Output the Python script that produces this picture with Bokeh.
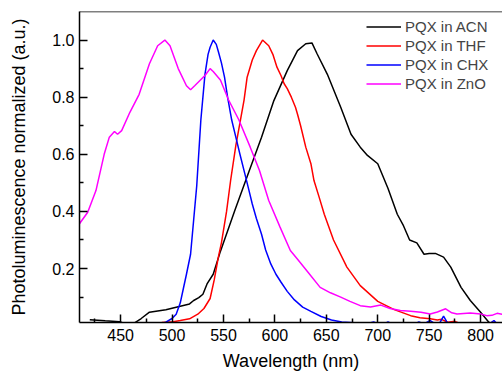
from bokeh.plotting import figure
from bokeh.models import FixedTicker, Span, Legend, LegendItem, Range1d, NumeralTickFormatter
from bokeh.embed import file_html
from bokeh.resources import INLINE

# ---- data ----
acn_wl = [420, 435, 449, 455, 462, 470, 478, 494, 507, 517, 521, 526, 530, 534, 540, 547, 561, 574,
          587, 599, 612, 622, 630, 636, 641, 651, 664, 674, 683, 690, 700, 710, 719, 725, 731, 738,
          745, 750, 756, 764, 771, 781, 790, 800, 808, 815]
acn_pl = [0.021, 0.017, 0.014, 0.006, 0.006, 0.025, 0.047, 0.056, 0.067, 0.076, 0.088, 0.098, 0.11, 0.146,
          0.18, 0.26, 0.403, 0.532, 0.66, 0.788, 0.893, 0.963, 0.987, 0.99, 0.952, 0.88, 0.765, 0.67,
          0.625, 0.596, 0.567, 0.48, 0.39, 0.35, 0.30, 0.29, 0.25, 0.253, 0.253, 0.24, 0.205, 0.134,
          0.088, 0.047, 0.012, 0.0]

thf_wl = [478, 490, 501, 508, 517, 525, 531, 537, 541, 545, 548, 553, 557, 562, 566, 570, 573, 578,
          582, 588, 594, 598, 602, 606, 609, 612, 616, 620, 622, 625, 630, 635, 638, 643, 648, 657,
          670, 683, 700, 716, 732, 741, 751, 758, 762, 768, 775, 780, 800, 812, 820]
thf_pl = [0.01, 0.011, 0.014, 0.018, 0.024, 0.04, 0.06, 0.095, 0.16, 0.24, 0.29, 0.40, 0.51, 0.63,
          0.71, 0.79, 0.87, 0.93, 0.963, 1.0, 0.98, 0.95, 0.905, 0.875, 0.847, 0.83, 0.80, 0.765,
          0.74, 0.70, 0.625, 0.567, 0.508, 0.45, 0.39, 0.30, 0.205, 0.14, 0.085, 0.056, 0.035,
          0.028, 0.024, 0.02, 0.022, 0.012, 0.015, 0.008, 0.0, 0.012, 0.0]

chx_wl = [488, 494, 500, 504, 508, 511, 514, 518, 521, 524, 528, 532, 535, 537, 540, 543, 545, 548,
          551, 554, 558, 562, 566, 570, 574, 578, 582, 587, 591, 596, 601, 606, 612, 619, 627, 635,
          645, 655, 665, 677, 690, 696, 700, 706, 710, 714, 736, 740, 745, 751, 756, 760, 764, 768,
          773, 805, 810, 813, 816, 820]
chx_pl = [0.005, 0.012, 0.025, 0.04, 0.08, 0.13, 0.18, 0.25, 0.37, 0.49, 0.72, 0.88, 0.95, 0.975,
          1.0, 0.985, 0.96, 0.92, 0.87, 0.80, 0.72, 0.66, 0.60, 0.543, 0.485, 0.426, 0.375, 0.32,
          0.265, 0.216, 0.18, 0.152, 0.12, 0.09, 0.065, 0.05, 0.032, 0.02, 0.013, 0.01, 0.008,
          0.013, 0.008, 0.006, 0.013, 0.006, 0.006, 0.013, 0.006, 0.018, 0.006, 0.008, 0.033,
          0.008, 0.006, 0.006, 0.01, 0.018, 0.006, 0.006]

zno_wl = [410, 418, 426, 434, 439, 444, 447, 451, 459, 468, 478, 486, 493, 498, 506, 514, 518, 522,
          532, 537, 540, 547, 555, 565, 576, 585, 594, 605, 615, 623, 632, 644, 654, 664, 673, 683,
          693, 703, 712, 722, 732, 742, 751, 758, 766, 772, 777, 790, 800, 806, 811, 816, 821]
zno_pl = [0.357, 0.397, 0.473, 0.60, 0.66, 0.68, 0.67, 0.683, 0.747, 0.81, 0.917, 0.98, 1.0, 0.98,
          0.90, 0.84, 0.826, 0.84, 0.876, 0.90, 0.89, 0.86, 0.79, 0.72, 0.625, 0.543, 0.438, 0.345,
          0.263, 0.228, 0.188, 0.134, 0.115, 0.10, 0.085, 0.07, 0.065, 0.072, 0.06, 0.053, 0.05,
          0.047, 0.041, 0.048, 0.059, 0.045, 0.041, 0.044, 0.041, 0.035, 0.036, 0.043, 0.04]

labels = ["PQX in ACN", "PQX in THF", "PQX in CHX", "PQX in ZnO"]
colors = ["#000000", "#ff0000", "#0000ff", "#ff00ff"]

x_major = [450, 500, 550, 600, 650, 700, 750, 800]
x_minor = [425, 475, 525, 575, 625, 675, 725, 775, 825]
y_major = [0.2, 0.4, 0.6, 0.8, 1.0]
y_minor = [0.1, 0.3, 0.5, 0.7, 0.9]
x_title = "Wavelength (nm)"
y_title = "Photoluminescence normalized (a.u.)"

FONT = "Liberation Sans"

p = figure(width=502, height=374, output_backend="svg", toolbar_location=None,
           x_range=Range1d(410, 821.3), y_range=Range1d(0.011, 1.1),
           min_border_left=79, min_border_right=0, min_border_top=11, min_border_bottom=52)
p.grid.visible = False
p.outline_line_color = None
p.background_fill_color = "white"
p.border_fill_color = "white"

p.xaxis.ticker = FixedTicker(ticks=x_major, minor_ticks=x_minor)
p.yaxis.ticker = FixedTicker(ticks=y_major, minor_ticks=y_minor)
p.yaxis.formatter = NumeralTickFormatter(format="0.0")

for ax in (p.xaxis[0], p.yaxis[0]):
    ax.axis_line_width = 1.5
    ax.major_tick_line_width = 1.5
    ax.minor_tick_line_width = 1.5
    ax.major_tick_in = 8
    ax.major_tick_out = 0
    ax.minor_tick_in = 4
    ax.minor_tick_out = 0
    ax.major_label_text_font = FONT
    ax.major_label_text_font_size = "16px"
    ax.major_label_text_color = "#000000"
    ax.axis_label_text_font = FONT
    ax.axis_label_text_font_size = "18px"
    ax.axis_label_text_font_style = "normal"
    ax.axis_label_text_color = "#000000"

p.xaxis.axis_label = x_title
p.yaxis.axis_label = y_title
p.xaxis.major_label_standoff = 6
p.xaxis.axis_label_standoff = 7
p.yaxis.major_label_standoff = 5
p.yaxis.axis_label_standoff = 20

p.add_layout(Span(location=1.1, dimension="width", line_color="black", line_width=1.5))

series = [(acn_wl, acn_pl), (thf_wl, thf_pl), (chx_wl, chx_pl), (zno_wl, zno_pl)]
renderers = []
for (wl, pl), c in zip(series, colors):
    renderers.append(p.line(wl, pl, line_color=c, line_width=1.5))

legend = Legend(items=[LegendItem(label=l, renderers=[r]) for l, r in zip(labels, renderers)],
                location="top_right", margin=6, padding=0, spacing=0,
                glyph_width=35, glyph_height=19, label_height=19, label_width=91,
                label_standoff=4, label_text_font=FONT, label_text_font_size="15px",
                border_line_color=None, background_fill_alpha=0)
p.add_layout(legend)

open("out.html", "w").write(file_html(p, INLINE))
